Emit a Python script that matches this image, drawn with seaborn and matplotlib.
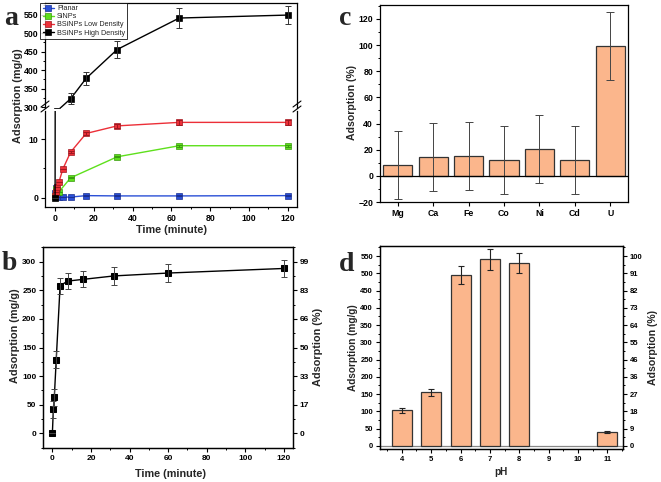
import matplotlib
matplotlib.use("Agg")
import matplotlib.pyplot as plt
import seaborn as sns
from matplotlib.ticker import MultipleLocator, FixedLocator
from matplotlib.lines import Line2D

# ---------------- data ----------------
# panel a
a_series = ["Planar", "SiNPs", "BSiNPs Low Density", "BSiNPs High Density"]
a_colors = ["#2a4fd6", "#5ee01c", "#ec2f38", "#000000"]
a_edges = ["#1a2f90", "#3a9a10", "#a01820", "#000000"]
a_time_planar = [0, 0.5, 1, 2, 4, 8, 16, 32, 64, 120]
a_planar = [0.8, 1.6, 1.0, 0.1, 0.1, 0.1, 0.35, 0.3, 0.3, 0.35]
a_planar_err = [0, 0, 0, 0, 0, 0, 0.1, 0.1, 0.1, 0.1]
a_time_sinps = [0, 0.5, 1, 2, 8, 32, 64, 120]
a_sinps = [0.2, 1.4, 1.2, 1.0, 3.4, 7.0, 8.9, 8.9]
a_sinps_err = [0, 0, 0, 0, 0.1, 0.1, 0.15, 0.15]
a_time_low = [0, 0.5, 1, 2, 4, 8, 16, 32, 64, 120]
a_low = [0.3, 1.0, 1.8, 2.7, 4.9, 7.8, 11.0, 12.3, 12.9, 12.9]
a_low_err = [0, 0, 0, 0, 0, 0.2, 0.3, 0.4, 0.4, 0.4]
a_time_high = [0, 1, 8, 16, 32, 64, 120]
a_high = [0, 290, 323, 378, 456, 541, 549]
a_high_err = [0, 0, 15, 17, 22, 27, 25]

# panel b
b_time = [0, 0.5, 1, 2, 4, 8, 16, 32, 60, 120]
b_ads = [0, 42, 63, 129, 258, 266, 269, 275, 280, 288]
b_err = [0, 15, 15, 15, 14, 14, 14, 15, 15, 15]
b_right_labels = ["0", "17", "33", "50", "66", "83", "99"]

# panel c
c_metals = ["Mg", "Ca", "Fe", "Co", "Ni", "Cd", "U"]
c_ads = [8, 14.5, 15, 12, 20.5, 12.5, 99]
c_err = [26, 26, 26, 26, 26, 26, 26]

# panel d
d_ph = ["4", "5", "6", "7", "8", "9", "10", "11"]
d_ads = [103, 155, 495, 540, 530, 0, 0, 40]
d_err = [7, 10, 27, 30, 28, 0, 0, 3]
d_right_labels = ["0", "9", "18", "27", "36", "46", "55", "64", "73", "82", "91", "100"]

BAR = "#FBB68C"

# ---------------- style ----------------
sns.set_theme(style="ticks")
plt.rcParams.update({
    "font.family": ["Liberation Sans", "DejaVu Sans"],
    "font.weight": "bold",
    "axes.labelweight": "bold",
    "axes.linewidth": 0.9,
    "axes.edgecolor": "black",
    "xtick.direction": "out",
    "ytick.direction": "out",
    "xtick.major.size": 3,
    "ytick.major.size": 3,
    "xtick.minor.size": 1.6,
    "ytick.minor.size": 1.6,
    "xtick.major.width": 0.8,
    "ytick.major.width": 0.8,
    "xtick.minor.width": 0.7,
    "ytick.minor.width": 0.7,
    "xtick.major.pad": 2,
    "ytick.major.pad": 2,
    "xtick.color": "black",
    "ytick.color": "black",
})

W, H = 661, 482
fig = plt.figure(figsize=(W / 100, H / 100), dpi=100)


def rect(l, r, t, b):
    return [l / W, 1 - b / H, (r - l) / W, (b - t) / H]


def bold_ticks(ax, size):
    for lab in ax.get_xticklabels() + ax.get_yticklabels():
        lab.set_fontweight("bold")
        lab.set_fontsize(size)


# ---------------- panel a (broken axis) ----------------
ax_up = fig.add_axes(rect(45, 297, 3, 108))
ax_lo = fig.add_axes(rect(45, 297, 111, 207))

series = [
    (a_time_planar, a_planar, a_planar_err),
    (a_time_sinps, a_sinps, a_sinps_err),
    (a_time_low, a_low, a_low_err),
    (a_time_high, a_high, a_high_err),
]
for ax in (ax_up, ax_lo):
    for (tx, vy, er), col, ec in zip(series, a_colors, a_edges):
        sns.lineplot(x=tx, y=vy, color=col, marker="s", markersize=5.0,
                     markeredgecolor=ec, markeredgewidth=0.5, linewidth=1.0,
                     ax=ax, sort=False)
        ax.errorbar(tx, vy, yerr=er, fmt="none", ecolor=ec if col != "#000000" else "#333333",
                    elinewidth=0.7, capsize=2.2, capthick=0.7)
    ax.set_xlim(-5.2, 124.7)
    ax.xaxis.set_major_locator(MultipleLocator(20))
    ax.xaxis.set_minor_locator(MultipleLocator(10))

ax_up.set_ylim(298, 581.6)
ax_up.yaxis.set_major_locator(MultipleLocator(50))
ax_up.yaxis.set_minor_locator(MultipleLocator(25))
ax_up.spines["bottom"].set_visible(False)
ax_up.tick_params(axis="x", which="both", bottom=False, labelbottom=False)
ax_lo.set_ylim(-1.6, 14.85)
ax_lo.yaxis.set_major_locator(FixedLocator([0, 10]))
ax_lo.yaxis.set_minor_locator(FixedLocator([5]))
ax_lo.spines["top"].set_visible(False)
bold_ticks(ax_up, 6.3)
bold_ticks(ax_lo, 6.3)

# break marks
for xx in (0, 1):
    for dy in (0, 5):
        fig.add_artist(Line2D([(45 + xx * 252 - 4) / W, (45 + xx * 252 + 4) / W],
                              [1 - (112 - dy) / H, 1 - (106 - dy) / H],
                              color="black", lw=0.8))

ax_lo.set_xlabel("Time (minute)", fontsize=7.8)
ax_lo.xaxis.set_label_coords(0.5, -0.24)
ax_lo.xaxis.label.set_verticalalignment("center")
ax_lo.set_ylabel("Adsorption (mg/g)", fontsize=7.8)
ax_lo.yaxis.set_label_coords(-0.107, 1.156)
ax_lo.yaxis.label.set_verticalalignment("center")
ax_up.set_ylabel("")
ax_up.set_xlabel("")

handles = [Line2D([], [], color=c, marker="s", markersize=4.2, markeredgecolor=e,
                  markeredgewidth=0.5, linewidth=1.0) for c, e in zip(a_colors, a_edges)]
leg = ax_up.legend(handles, a_series, loc="upper left", bbox_to_anchor=(-0.018, 1.0),
                   fontsize=5.2, frameon=True, fancybox=False, edgecolor="black",
                   handlelength=1.6, handletextpad=0.4, borderpad=0.3,
                   labelspacing=0.15, borderaxespad=0.0)
leg.get_frame().set_linewidth(0.7)
for t in leg.get_texts():
    t.set_fontweight("normal")

# ---------------- panel b ----------------
ax_b = fig.add_axes(rect(43.3, 292.7, 246.7, 448.3))
sns.lineplot(x=b_time, y=b_ads, color="black", marker="s", markersize=5.0,
             markeredgecolor="black", linewidth=1.0, ax=ax_b, sort=False)
ax_b.errorbar(b_time, b_ads, yerr=b_err, fmt="none", ecolor="#444444",
              elinewidth=0.7, capsize=2.2, capthick=0.7)
ax_b.set_xlim(-4.7, 124.5)
ax_b.set_ylim(-26, 326)
ax_b.xaxis.set_major_locator(MultipleLocator(20))
ax_b.xaxis.set_minor_locator(MultipleLocator(10))
ax_b.yaxis.set_major_locator(MultipleLocator(50))
ax_b.yaxis.set_minor_locator(MultipleLocator(25))
ax_b.set_xlabel("Time (minute)", fontsize=7.8)
ax_b.xaxis.set_label_coords(0.511, -0.129)
ax_b.xaxis.label.set_verticalalignment("center")
ax_b.set_ylabel("Adsorption (mg/g)", fontsize=7.8)
ax_b.yaxis.set_label_coords(-0.1135, 0.558)
ax_b.yaxis.label.set_verticalalignment("center")
bold_ticks(ax_b, 6.0)
ax_b2 = ax_b.twinx()
ax_b2.set_ylim(ax_b.get_ylim())
ax_b2.yaxis.set_major_locator(FixedLocator([0, 50, 100, 150, 200, 250, 300]))
ax_b2.yaxis.set_minor_locator(MultipleLocator(25))
ax_b2.set_yticklabels(b_right_labels)
ax_b2.set_ylabel("Adsorption (%)", fontsize=7.8)
ax_b2.yaxis.set_label_coords(1.103, 0.504)
ax_b2.yaxis.label.set_verticalalignment("center")
bold_ticks(ax_b2, 6.0)

# ---------------- panel c ----------------
ax_c = fig.add_axes(rect(380, 628, 5, 202))
sns.barplot(x=c_metals, y=c_ads, color=BAR, saturation=1, width=0.82,
            edgecolor="#333333", linewidth=0.9, errorbar=None, ax=ax_c)
ax_c.errorbar(range(len(c_metals)), c_ads, yerr=c_err, fmt="none", ecolor="#444444",
              elinewidth=0.7, capsize=2.8, capthick=0.7)
ax_c.axhline(0, color="black", lw=0.9)
ax_c.set_xlim(-0.5, 6.5)
ax_c.set_ylim(-20, 130.7)
ax_c.yaxis.set_major_locator(MultipleLocator(20))
ax_c.yaxis.set_minor_locator(MultipleLocator(10))
ax_c.set_xlabel("")
ax_c.set_ylabel("Adsorption (%)", fontsize=7.6)
ax_c.yaxis.set_label_coords(-0.114, 0.505)
ax_c.yaxis.label.set_verticalalignment("center")
bold_ticks(ax_c, 6.3)

# ---------------- panel d ----------------
ax_d = fig.add_axes(rect(380, 623, 246, 449.3))
sns.barplot(x=d_ph, y=d_ads, color=BAR, saturation=1, width=0.68,
            edgecolor="#333333", linewidth=0.9, errorbar=None, ax=ax_d)
for p in ax_d.patches:
    if p.get_height() == 0:
        p.set_visible(False)
ax_d.errorbar([i for i, v in enumerate(d_ads) if v > 0],
              [v for v in d_ads if v > 0],
              yerr=[e for e, v in zip(d_err, d_ads) if v > 0],
              fmt="none", ecolor="#222222", elinewidth=0.8, capsize=2.3, capthick=0.8)
ax_d.axhline(0, color="#888888", lw=0.9, zorder=0.5)
ax_d.set_xlim(-0.74, 7.53)
ax_d.set_ylim(-10, 579)
ax_d.yaxis.set_major_locator(MultipleLocator(50))
ax_d.yaxis.set_minor_locator(MultipleLocator(25))
ax_d.xaxis.set_minor_locator(FixedLocator([i + 0.5 for i in range(-1, 8)]))
ax_d.set_xlabel("pH", fontsize=7.2)
ax_d.xaxis.set_label_coords(0.497, -0.11)
ax_d.xaxis.label.set_verticalalignment("center")
ax_d.set_ylabel("Adsorption (mg/g)", fontsize=7.2)
ax_d.yaxis.set_label_coords(-0.11, 0.5)
ax_d.yaxis.label.set_verticalalignment("center")
bold_ticks(ax_d, 5.5)
ax_d2 = ax_d.twinx()
ax_d2.set_ylim(ax_d.get_ylim())
ax_d2.yaxis.set_major_locator(FixedLocator(list(range(0, 551, 50))))
ax_d2.yaxis.set_minor_locator(MultipleLocator(25))
ax_d2.set_yticklabels(d_right_labels)
ax_d2.set_ylabel("Adsorption (%)", fontsize=7.6)
ax_d2.yaxis.set_label_coords(1.125, 0.5)
ax_d2.yaxis.label.set_verticalalignment("center")
bold_ticks(ax_d2, 5.5)

# ---------------- panel letters ----------------
for txt, x, y in [("a", 4, 25), ("c", 339, 25), ("b", 2, 270), ("d", 339, 271)]:
    fig.text(x / W, 1 - y / H, txt, fontsize=20, fontweight="bold",
             family=["Liberation Serif", "DejaVu Serif"], ha="left", va="baseline")

fig.savefig("out.png", dpi=100)
